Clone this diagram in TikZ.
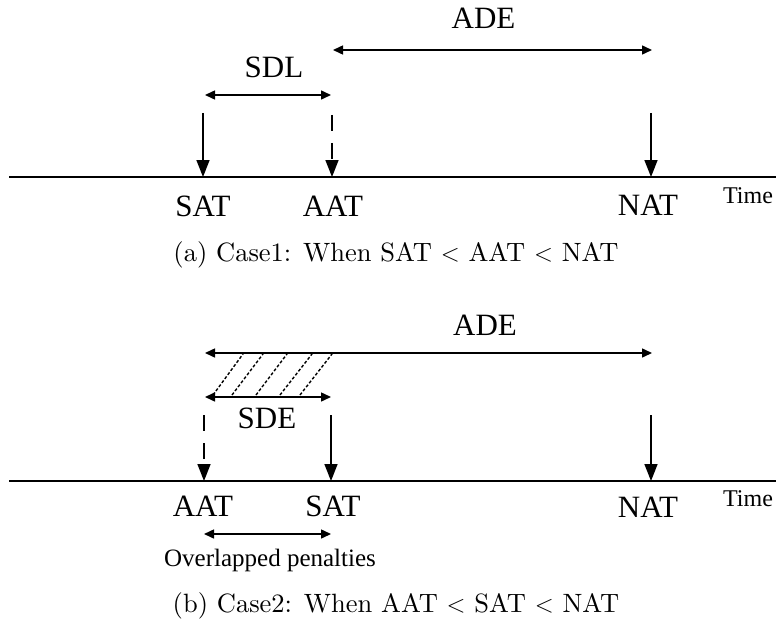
\documentclass[tikz,border=0pt]{standalone}
\usepackage{fontspec}
\newfontfamily\tnr{Liberation Serif}
\newfontfamily\capfont[Extension=.otf]{lmroman10-regular}
\usetikzlibrary{arrows.meta}
\begin{document}
\begin{tikzpicture}[x=1pt,y=-1pt,
  axis/.style={line width=2pt},
  drop/.style={line width=1.6pt,-{Triangle[length=17pt,width=13pt]}},
  dropdash/.style={drop,dash pattern=on 16pt off 12pt},
  span/.style={line width=1.5pt,{Triangle[length=10pt,width=9pt]}-{Triangle[length=10pt,width=9pt]}},
  hatch/.style={line width=1.4pt,dash pattern=on 3pt off 2pt},
  lbl/.style={font=\tnr\fontsize{31}{31}\selectfont,inner sep=0pt},
  timelbl/.style={font=\tnr\fontsize{24}{24}\selectfont,inner sep=0pt},
  note/.style={font=\tnr\fontsize{25}{25}\selectfont,inner sep=0pt},
  caption/.style={font=\capfont\fontsize{26.5}{30}\selectfont,inner sep=0pt}]
\useasboundingbox (0,0) rectangle (776,623);

% ---------- Case 1: SAT < AAT < NAT ----------
\coordinate (axA0) at (9,177);
\coordinate (axA1) at (776,177);
\draw[axis] (axA0) -- (axA1);

\coordinate (satAtop) at (203,113);
\coordinate (satAbot) at (203,177);
\coordinate (aatAtop) at (332,115);
\coordinate (aatAbot) at (332,177);
\coordinate (natAtop) at (651,113);
\coordinate (natAbot) at (651,177);
\draw[drop] (satAtop) -- (satAbot);
\draw[dropdash] (aatAtop) -- (aatAbot);
\draw[drop] (natAtop) -- (natAbot);

\node[lbl] (satA) at (203,206) {SAT};
\node[lbl] (aatA) at (333,206) {AAT};
\node[lbl] (natA) at (648,205) {NAT};
\node[timelbl] (timeA) at (748,196) {Time};

\coordinate (sdlL) at (205,95);
\coordinate (sdlR) at (331,95);
\draw[span] (sdlL) -- (sdlR);
\node[lbl] (sdl) at (274,67) {SDL};

\coordinate (adeAL) at (333,50);
\coordinate (adeAR) at (652,50);
\draw[span] (adeAL) -- (adeAR);
\node[lbl] (adeA) at (483.5,18) {ADE};

\node[caption] (capA) at (396,255) {(a) Case1: When SAT $<$ AAT $<$ NAT};

% ---------- Case 2: AAT < SAT < NAT ----------
\coordinate (axB0) at (9,481);
\coordinate (axB1) at (776,481);
\draw[axis] (axB0) -- (axB1);

\coordinate (aatBtop) at (204,415);
\coordinate (aatBbot) at (204,481);
\coordinate (satBtop) at (331,415);
\coordinate (satBbot) at (331,481);
\coordinate (natBtop) at (651,415);
\coordinate (natBbot) at (651,481);
\draw[dropdash] (aatBtop) -- (aatBbot);
\draw[drop] (satBtop) -- (satBbot);
\draw[drop] (natBtop) -- (natBbot);

\node[lbl] (aatB) at (203,506) {AAT};
\node[lbl] (satB) at (333,506) {SAT};
\node[lbl] (natB) at (648,507) {NAT};
\node[timelbl] (timeB) at (748,499) {Time};

% hatched overlap between the two spans
\foreach \xb/\xt in {213/243,232/263,256/287,280/312,300/332}
  \draw[hatch] (\xb,395) -- (\xt,354);

\coordinate (adeBL) at (205,353);
\coordinate (adeBR) at (652,353);
\draw[span] (adeBL) -- (adeBR);
\node[lbl] (adeB) at (485,325) {ADE};

\coordinate (sdeL) at (205,397);
\coordinate (sdeR) at (331,397);
\draw[span] (sdeL) -- (sdeR);
\node[lbl] (sde) at (267,418) {SDE};

\coordinate (ovL) at (204,534);
\coordinate (ovR) at (331,534);
\draw[span] (ovL) -- (ovR);
\node[note] (ov) at (270,560) {Overlapped penalties};

\node[caption] (capB) at (396,606) {(b) Case2: When AAT $<$ SAT $<$ NAT};
\end{tikzpicture}
\end{document}
